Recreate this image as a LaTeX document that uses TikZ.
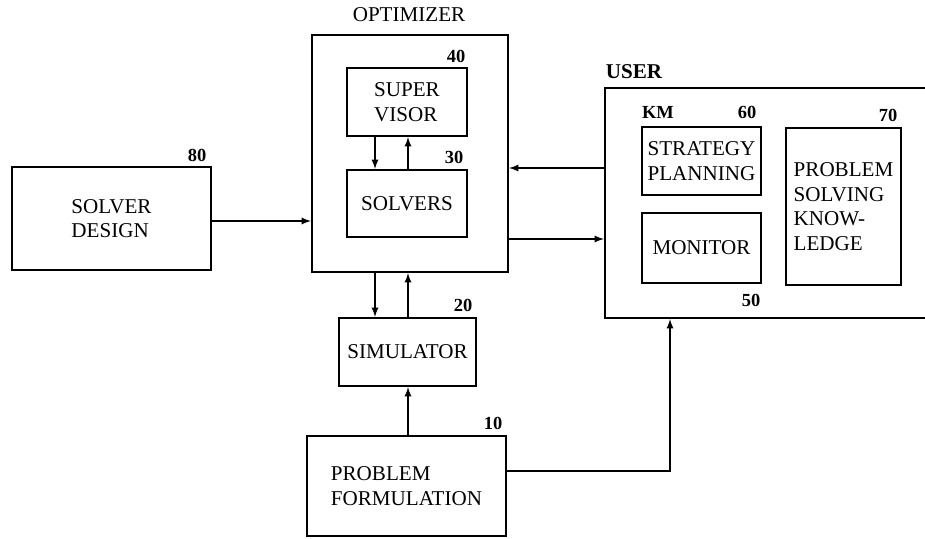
\documentclass[tikz,border=0pt]{standalone}
\usepackage{fontspec}
\setmainfont{Liberation Serif}
\usepackage{tikz}
\usetikzlibrary{arrows,positioning}

\begin{document}
\begin{tikzpicture}[
    x=0.02cm, y=-0.02cm,
    box/.style={rectangle, draw, line width=1.3pt, inner sep=0pt, align=left, font=\fontsize{12}{14}\selectfont},
    num/.style={font=\bfseries\fontsize{10.5}{12}\selectfont, inner sep=0pt},
    title/.style={font=\fontsize{12}{14}\selectfont, inner sep=0pt},
    arrow/.style={-latex, line width=0.8pt},
    line/.style={line width=0.8pt}
]
    \clip (0,0) rectangle (925,538);

    % ============ Optimizer ============
    \node[box, minimum width=196*0.02cm, minimum height=237*0.02cm] (opt) at (410,153.5) {};
    \node[title] (optlbl) at (409,15) {OPTIMIZER};
    \node[box, minimum width=120*0.02cm, minimum height=68*0.02cm] (sup) at (407,102) {SUPER\\VISOR};
    \node[num] (n40) at (456,56) {40};
    \node[box, minimum width=120*0.02cm, minimum height=67*0.02cm] (solv) at (407,203.5) {SOLVERS};
    \node[num] (n30) at (454,157) {30};

    % ============ Solver design ============
    \node[box, minimum width=199*0.02cm, minimum height=103*0.02cm] (design) at (111.5,218.5) {SOLVER\\DESIGN};
    \node[num] (n80) at (197,155) {80};

    % ============ User ============
    \node[box, minimum width=340*0.02cm, minimum height=230*0.02cm] (user) at (775,203) {};
    \node[title, font=\bfseries\fontsize{12}{14}\selectfont] (userlbl) at (634,72) {USER};
    \node[num] (km) at (658,112) {KM};
    \node[box, minimum width=119*0.02cm, minimum height=68*0.02cm] (strat) at (701.5,161) {STRATEGY\\PLANNING};
    \node[num] (n60) at (747,112) {60};
    \node[box, minimum width=119*0.02cm, minimum height=70*0.02cm] (mon) at (701.5,248) {MONITOR};
    \node[num] (n50) at (751,300) {50};
    \node[box, minimum width=115*0.02cm, minimum height=157*0.02cm] (psk) at (843.5,206.5) {PROBLEM\\SOLVING\\KNOW-\\LEDGE};
    \node[num] (n70) at (888,115) {70};

    % ============ Simulator / formulation ============
    \node[box, minimum width=137*0.02cm, minimum height=68*0.02cm] (sim) at (407.5,352) {SIMULATOR};
    \node[num] (n20) at (463,305) {20};
    \node[box, minimum width=199*0.02cm, minimum height=100*0.02cm] (form) at (406.5,486) {PROBLEM\\FORMULATION};
    \node[num] (n10) at (493,423) {10};

    % ============ Connections ============
    \coordinate (dn) at (375,0);
    \coordinate (up) at (408,0);
    \coordinate (back) at (0,168);
    \coordinate (fwd) at (0,239);
    \coordinate (pf) at (0,471);
    \coordinate (uk) at (670,0);

    % supervisor <-> solvers
    \draw[arrow] (sup.south -| dn) -- (solv.north -| dn);
    \draw[arrow] (solv.north -| up) -- (sup.south -| up);

    % optimizer <-> simulator
    \draw[arrow] (opt.south -| dn) -- (sim.north -| dn);
    \draw[arrow] (sim.north -| up) -- (opt.south -| up);
    \draw[arrow] (form.north -| up) -- (sim.south -| up);

    % solver design into optimizer
    \draw[arrow] (design.east |- 0,221) -- (opt.west |- 0,221);

    % optimizer <-> user
    \draw[arrow] (user.west |- back) -- (opt.east |- back);
    \draw[arrow] (opt.east |- fwd) -- (user.west |- fwd);

    % formulation to user
    \draw[arrow] (form.east |- pf) -| (user.south -| uk);

\end{tikzpicture}
\end{document}
